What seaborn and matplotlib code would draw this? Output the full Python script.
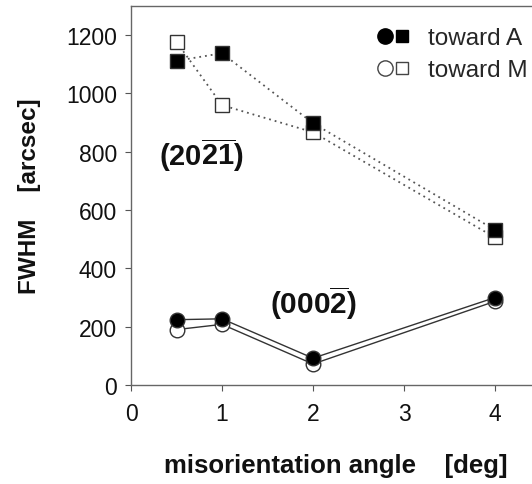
import matplotlib
matplotlib.use("Agg")
import matplotlib.pyplot as plt
import seaborn as sns
import pandas as pd
from matplotlib.legend_handler import HandlerTuple
from matplotlib.lines import Line2D

# ---- data ----
angles = [0.5, 1, 2, 4]
sq_toward_A = [1112, 1138, 898, 532]   # (20-2-1) filled squares
sq_toward_M = [1177, 960, 867, 506]    # (20-2-1) open squares
ci_toward_A = [224, 227, 92, 300]      # (000-2) filled circles
ci_toward_M = [190, 208, 72, 287]      # (000-2) open circles
xticks = [0, 1, 2, 3, 4]
yticks = [0, 200, 400, 600, 800, 1000, 1200]

sns.set_theme(style="ticks")
plt.rcParams["font.family"] = ["Liberation Sans", "DejaVu Sans"]
plt.rcParams["mathtext.fontset"] = "custom"
plt.rcParams["mathtext.rm"] = "Liberation Sans"
plt.rcParams["mathtext.bf"] = "Liberation Sans:bold"

fig = plt.figure(figsize=(5.32, 4.85), dpi=100)
W, H = 532, 485
x0, xunit = 131, 91.0
ax = fig.add_axes([x0 / W, (H - 386) / H, 5 * xunit / W, (386 - 7) / H])

df = pd.DataFrame({"angle": angles, "sqA": sq_toward_A, "sqM": sq_toward_M,
                   "ciA": ci_toward_A, "ciM": ci_toward_M})

ms_sq = 9.5
ms_ci = 10.5
# open squares (toward M)
sns.lineplot(data=df, x="angle", y="sqM", ax=ax, sort=False, color="#555555",
             linestyle=(0, (1, 2.2)), linewidth=1.3, marker="s", markersize=ms_sq,
             markerfacecolor="white", markeredgecolor="#333333", markeredgewidth=1.0,
             zorder=3)
# filled squares (toward A)
sns.lineplot(data=df, x="angle", y="sqA", ax=ax, sort=False, color="#555555",
             linestyle=(0, (1, 2.2)), linewidth=1.3, marker="s", markersize=ms_sq,
             markerfacecolor="black", markeredgecolor="#333333", markeredgewidth=1.0,
             zorder=4)
# open circles (toward M)
sns.lineplot(data=df, x="angle", y="ciM", ax=ax, sort=False, color="#333333",
             linestyle="-", linewidth=1.0, marker="o", markersize=ms_ci,
             markerfacecolor="white", markeredgecolor="#333333", markeredgewidth=1.0,
             zorder=3)
# filled circles (toward A)
sns.lineplot(data=df, x="angle", y="ciA", ax=ax, sort=False, color="#333333",
             linestyle="-", linewidth=1.0, marker="o", markersize=ms_ci,
             markerfacecolor="black", markeredgecolor="#333333", markeredgewidth=1.0,
             zorder=4)

ax.set_xlim(0, 5)
ax.set_ylim(0, 1300)
ax.set_xticks(xticks)
ax.set_yticks(yticks)
ax.set_xticklabels([str(t) for t in xticks])
ax.set_yticklabels([str(t) for t in yticks])
ax.tick_params(axis="both", direction="out", length=4, width=0.8, color="#555555",
               labelsize=16.5, labelcolor="#111111")
ax.tick_params(axis="x", pad=8)
ax.tick_params(axis="y", pad=6)
for s in ax.spines.values():
    s.set_color("#666666")
    s.set_linewidth(1.0)

ax.set_xlabel("")
ax.set_ylabel("")
fig.text(336 / W, 1 - 466 / H, "misorientation angle    [deg]", ha="center", va="center",
         fontsize=18.5, fontweight="bold", color="#111111")
fig.text(30 / W, 1 - 196 / H, "FWHM    [arcsec]", ha="center", va="center",
         rotation=90, fontsize=17.5, fontweight="bold", color="#111111")

ax.text(0.77, 790, r"$\mathbf{(20\overline{2}\overline{1})}$", ha="center", va="center",
        fontsize=21, color="#111111")
ax.text(2.0, 285, r"$\mathbf{(000\overline{2})}$", ha="center", va="center",
        fontsize=21.5, color="#111111")

hA = (Line2D([], [], marker="o", linestyle="none", markersize=ms_ci + 0.5, markerfacecolor="black",
             markeredgecolor="black"),
      Line2D([], [], marker="s", linestyle="none", markersize=ms_sq - 0.5, markerfacecolor="black",
             markeredgecolor="black"))
hM = (Line2D([], [], marker="o", linestyle="none", markersize=ms_ci + 0.5, markerfacecolor="white",
             markeredgecolor="#444444"),
      Line2D([], [], marker="s", linestyle="none", markersize=ms_sq - 0.5, markerfacecolor="white",
             markeredgecolor="#444444"))
leg = ax.legend([hA, hM], ["toward A", "toward M"],
                handler_map={tuple: HandlerTuple(ndivide=None, pad=0.0)},
                loc="upper left", bbox_to_anchor=(376 / W, 1 - 28 / H),
                bbox_transform=fig.transFigure, frameon=False, fontsize=17.5,
                handlelength=1.4, handletextpad=0.74, labelspacing=0.42,
                borderpad=0, borderaxespad=0)

fig.savefig("out.png", dpi=100)
